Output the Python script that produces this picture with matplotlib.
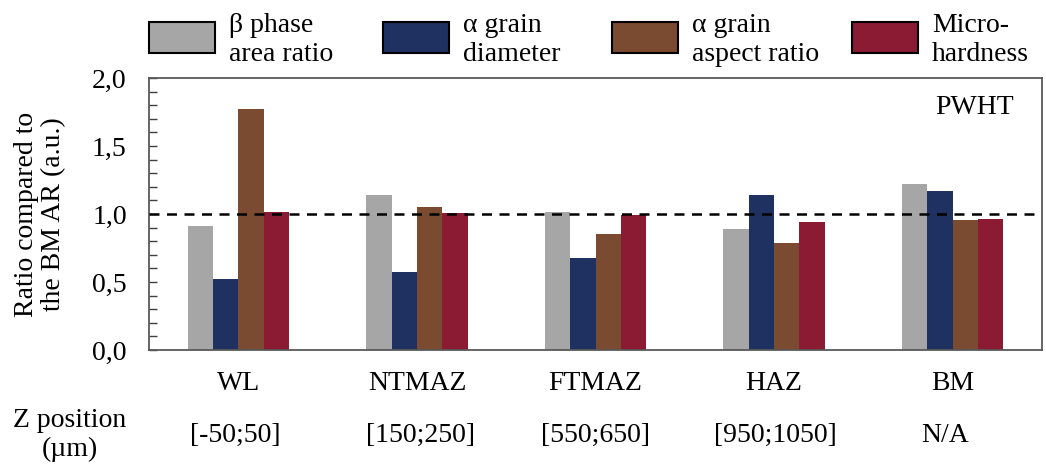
import numpy as np
import matplotlib.pyplot as plt
from matplotlib.patches import Rectangle
from matplotlib.ticker import MultipleLocator, FuncFormatter

# Data
zones = ['WL', 'NTMAZ', 'FTMAZ', 'HAZ', 'BM']
z_positions = ['[-50;50]', '[150;250]', '[550;650]', '[950;1050]', 'N/A']
beta_area = [0.91, 1.14, 1.015, 0.89, 1.22]
alpha_diam = [0.52, 0.575, 0.675, 1.14, 1.17]
alpha_aspect = [1.77, 1.055, 0.85, 0.785, 0.955]
microhardness = [1.015, 1.005, 0.995, 0.94, 0.965]

series = [beta_area, alpha_diam, alpha_aspect, microhardness]
labels = ['\u03b2 phase\narea ratio', '\u03b1 grain\ndiameter',
          '\u03b1 grain\naspect ratio', 'Micro-\nhardness']
colors = ['#a6a6a6', '#1f3160', '#7a4a31', '#8b1a33']

plt.rcParams['font.family'] = ['Liberation Serif', 'DejaVu Serif']
fs = 20

W, H = 1046, 471
fig = plt.figure(figsize=(W / 100, H / 100), dpi=100)


def fx(px):
    return px / W


def fy(py):
    return 1 - py / H


ax = fig.add_axes([fx(149), fy(350), fx(1042) - fx(149), fy(78) - fy(350)])

index = np.arange(len(zones))
bar_width = 0.142
for i, (vals, c) in enumerate(zip(series, colors)):
    ax.bar(index + (i - 1.5) * bar_width, vals, bar_width, color=c, zorder=2)

ax.axhline(1.0, color='black', linestyle=(0, (4, 3)), linewidth=1.8, zorder=3)

ax.set_xlim(-0.5, 4.5)
ax.set_ylim(0, 2.0)
ax.yaxis.set_major_locator(MultipleLocator(0.5))
ax.yaxis.set_minor_locator(MultipleLocator(0.1))
ax.yaxis.set_major_formatter(FuncFormatter(lambda v, p: f'{v:.1f}'.replace('.', ',')))
ax.tick_params(axis='y', which='both', direction='in', length=6, width=1,
               color='#404040', labelsize=fs, pad=16)
ax.tick_params(axis='x', length=0, labelsize=fs, pad=15)
ax.set_xticks(index)
ax.set_xticklabels(zones)
for s in ax.spines.values():
    s.set_color('#595959')
    s.set_linewidth(1.3)

ax.set_ylabel('Ratio compared to\nthe BM AR (a.u.)', fontsize=fs, linespacing=1.15)
ax.yaxis.label.set_verticalalignment('center')
ax.yaxis.set_label_coords(-(149 - 40) / (1042 - 149), 0.5)

fig.text(fx(975), fy(107), 'PWHT', fontsize=fs, ha='center', va='center')

# Z position row
fig.text(fx(70), fy(435), 'Z position\n(\u00b5m)', fontsize=fs, ha='center',
         va='center', linespacing=1.15)
z_x = [235, 420, 595, 775, 945]
for x, t in zip(z_x, z_positions):
    fig.text(fx(x), fy(435), t, fontsize=fs, ha='center', va='center')

# Legend
leg_x = [149, 383, 612, 852]
for x, lab, c in zip(leg_x, labels, colors):
    fig.patches.append(Rectangle((fx(x), fy(53)), fx(66), fy(22) - fy(53),
                                 transform=fig.transFigure, facecolor=c,
                                 edgecolor='black', linewidth=1.5))
    fig.text(fx(x + 80), fy(40), lab, fontsize=fs, ha='left', va='center',
             linespacing=1.2)

fig.savefig('out.png', dpi=100)
